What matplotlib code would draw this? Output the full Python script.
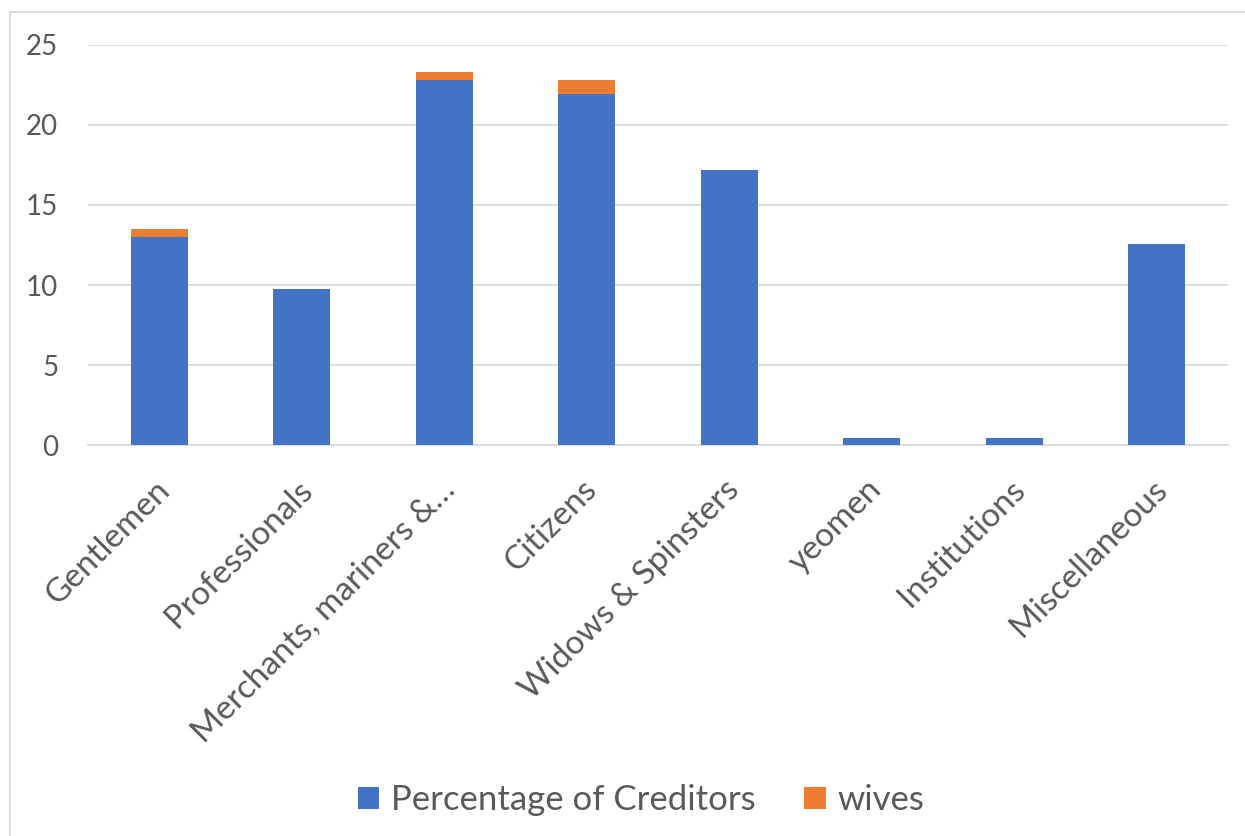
import matplotlib.pyplot as plt
import matplotlib.transforms as mtransforms
from matplotlib.lines import Line2D
import numpy as np

plt.rcParams['font.family'] = ['Lato', 'DejaVu Sans']

# Data
categories = ['Gentlemen', 'Professionals', 'Merchants, mariners &…', 'Citizens',
              'Widows & Spinsters', 'yeomen', 'Institutions', 'Miscellaneous']
creditors = [13.0, 9.75, 22.8, 21.9, 17.2, 0.45, 0.45, 12.55]
wives = [0.5, 0, 0.5, 0.9, 0, 0, 0, 0]

blue = '#4472C4'
orange = '#ED7D31'
text_col = '#595959'
grid_col = '#D9D9D9'

W, H = 1245, 836
fig = plt.figure(figsize=(W / 100, H / 100), dpi=100)
ax = fig.add_axes([88 / W, 1 - 445.3 / H, 1140 / W, (445.3 - 44.7) / H])

x = np.arange(len(categories))
ax.bar(x, creditors, width=0.4, color=blue, label='Percentage of Creditors', zorder=3)
ax.bar(x, wives, width=0.4, bottom=creditors, color=orange, label='wives', zorder=3)

ax.set_xlim(-0.5, len(categories) - 0.5)
ax.set_ylim(0, 25)
ax.set_yticks([0, 5, 10, 15, 20, 25])
ax.yaxis.grid(True, color=grid_col, linewidth=1.3, zorder=0)
ax.set_axisbelow(True)
for side in ['top', 'right', 'left']:
    ax.spines[side].set_visible(False)
ax.spines['bottom'].set_color(grid_col)
ax.spines['bottom'].set_linewidth(1.3)
ax.tick_params(axis='both', length=0, colors=text_col)
ax.tick_params(axis='y', labelsize=20, pad=21.5)
ax.set_xticks(x)
ax.set_xticklabels(categories, rotation=45, ha='right', rotation_mode='anchor',
                   fontsize=24)
ax.tick_params(axis='x', pad=21)
shift = mtransforms.ScaledTranslation(-5 / 100, 0, fig.dpi_scale_trans)
for lbl in ax.get_xticklabels():
    lbl.set_transform(lbl.get_transform() + shift)

fig.legend(loc='center', bbox_to_anchor=(641 / W, 1 - 800 / H), ncol=2, frameon=False,
           fontsize=25, labelcolor=text_col, handlelength=0.62, handleheight=0.62,
           columnspacing=1.4, handletextpad=0.33)

# chart border (right and bottom edges fall outside the image)
fig.lines.append(Line2D([9.5 / W, 1], [1 - 12 / H, 1 - 12 / H], transform=fig.transFigure,
                        color=grid_col, linewidth=1.3))
fig.lines.append(Line2D([9.5 / W, 9.5 / W], [0, 1 - 12 / H], transform=fig.transFigure,
                        color=grid_col, linewidth=1.3))

fig.savefig('out.png', dpi=100)
